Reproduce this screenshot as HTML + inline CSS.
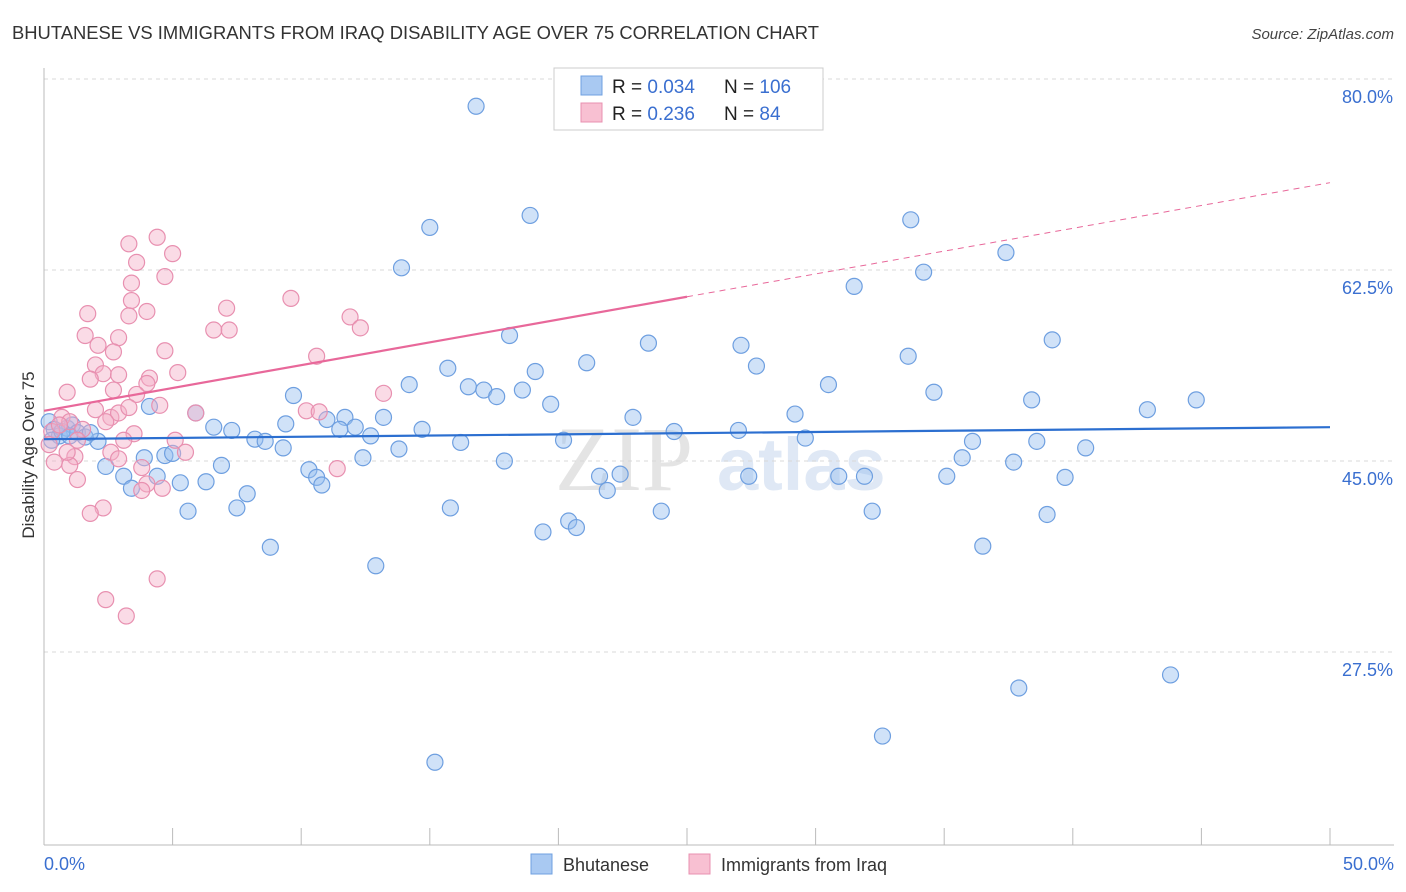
<!DOCTYPE html>
<html><head><meta charset="utf-8"><style>
body{margin:0;background:#fff;font-family:"Liberation Sans",sans-serif;}
svg{display:block}
</style></head><body>
<svg id="chart" width="1406" height="892" xmlns="http://www.w3.org/2000/svg">
<text x="12" y="39" font-size="18.4" fill="#333">BHUTANESE VS IMMIGRANTS FROM IRAQ DISABILITY AGE OVER 75 CORRELATION CHART</text>
<text x="1394" y="39" font-size="15" fill="#444" text-anchor="end" font-style="italic">Source: ZipAtlas.com</text>
<g><text x="555" y="490" font-size="92" fill="#e4e4e4" font-family="Liberation Serif, serif">ZIP</text><text x="717" y="490" font-size="74" fill="#dfe8f5" font-weight="bold">atlas</text></g>
<g id="grid"></g>
<g id="axes"></g>
<text transform="translate(34,455) rotate(-90)" font-size="17" fill="#333" text-anchor="middle">Disability Age Over 75</text>
<g id="pts"></g>
<g id="lines"></g>
<g>
<rect x="554" y="68" width="269" height="62" fill="#fff" stroke="#ccc"/>
<rect x="581" y="76" width="21" height="19" fill="#a9c9f2" stroke="#6fa0e0"/>
<rect x="581" y="103" width="21" height="19" fill="#f8c0d2" stroke="#e890b0"/>
<text x="612" y="93" font-size="19" fill="#222">R = <tspan fill="#3a6fd0">0.034</tspan></text>
<text x="724" y="93" font-size="19" fill="#222">N = <tspan fill="#3a6fd0">106</tspan></text>
<text x="612" y="120" font-size="19" fill="#222">R = <tspan fill="#3a6fd0">0.236</tspan></text>
<text x="724" y="120" font-size="19" fill="#222">N = <tspan fill="#3a6fd0"> 84</tspan></text>
</g>
<g>
<rect x="531" y="854" width="21" height="20" fill="#a9c9f2" stroke="#6fa0e0"/>
<text x="563" y="871" font-size="18" fill="#333">Bhutanese</text>
<rect x="689" y="854" width="21" height="20" fill="#f8c0d2" stroke="#e890b0"/>
<text x="721" y="871" font-size="18" fill="#333">Immigrants from Iraq</text>
</g>
</svg>
<script>
const xTicks=[0,5,10,15,20,25,30,35,40,45,50];
const yTicks=[27.5,45,62.5,80];
const yTickLabels=["27.5%","45.0%","62.5%","80.0%"];
const blueX=[16.8,18.9,15.0,33.7,37.4,13.9,34.2,31.5,18.1,23.5,27.1,39.2,33.6,21.1,27.7,15.7,19.1,14.2,16.5,17.1,18.6,30.5,34.6,9.7,17.6,19.7,42.9,44.8,38.4,4.1,5.9,29.2,13.2,11.7,11.0,9.4,22.9,6.6,7.3,12.1,11.5,14.7,12.7,27.0,24.5,8.2,8.6,20.2,29.6,36.1,38.6,16.2,2.1,9.3,13.8,40.5,3.9,4.7,5.0,12.4,17.9,35.7,37.7,6.9,2.4,10.3,10.6,10.8,3.1,4.4,5.3,6.3,21.6,22.4,27.4,30.9,31.9,35.1,39.7,3.4,7.9,21.9,5.6,7.5,15.8,24.0,32.2,39.0,20.4,20.7,19.4,8.8,36.5,12.9,37.9,43.8,32.6,15.2,0.2,0.4,0.6,0.9,1.1,1.3,1.6,1.8,0.3,0.7,1.0];
const blueY=[77.5,67.5,66.4,67.1,64.1,62.7,62.3,61.0,56.5,55.8,55.6,56.1,54.6,54.0,53.7,53.5,53.2,52.0,51.8,51.5,51.5,52.0,51.3,51.0,50.9,50.2,49.7,50.6,50.6,50.0,49.4,49.3,49.0,49.0,48.8,48.4,49.0,48.1,47.8,48.1,47.9,47.9,47.3,47.8,47.7,47.0,46.8,46.9,47.1,46.8,46.8,46.7,46.8,46.2,46.1,46.2,45.3,45.5,45.7,45.3,45.0,45.3,44.9,44.6,44.5,44.2,43.5,42.8,43.6,43.6,43.0,43.1,43.6,43.8,43.6,43.6,43.6,43.6,43.5,42.5,42.0,42.3,40.4,40.7,40.7,40.4,40.4,40.1,39.5,38.9,38.5,37.1,37.2,35.4,24.2,25.4,19.8,17.4,48.6,47.9,47.3,48.0,48.3,47.6,47.2,47.6,46.9,47.7,47.3];
const pinkX=[4.4,3.3,5.0,3.6,4.7,3.4,7.1,3.4,4.0,9.6,1.7,3.3,11.9,1.6,2.9,6.6,7.2,12.3,2.1,2.7,4.7,10.6,2.0,5.2,2.3,2.9,1.8,4.1,4.0,0.9,2.7,3.6,13.2,4.5,5.9,2.0,2.6,2.9,10.2,10.7,3.3,0.7,1.0,2.4,3.5,3.1,5.1,1.5,0.3,0.6,0.2,1.3,2.6,2.9,5.5,3.8,1.2,1.0,0.4,0.9,11.4,1.3,4.0,4.6,3.8,2.3,1.8,4.4,2.4,3.2];
const pinkY=[65.5,64.9,64.0,63.2,61.9,61.3,59.0,59.7,58.7,59.9,58.5,58.3,58.2,56.5,56.3,57.0,57.0,57.2,55.6,55.0,55.1,54.6,53.8,53.1,53.0,52.9,52.5,52.6,52.1,51.3,51.5,51.1,51.2,50.1,49.4,49.7,49.0,49.4,49.6,49.5,49.9,49.0,48.6,48.6,47.5,46.9,46.9,47.9,47.7,48.3,46.5,46.9,45.8,45.2,45.8,44.4,45.4,44.6,44.9,45.8,44.3,43.3,42.9,42.5,42.3,40.7,40.2,34.2,32.3,30.8];
const blueTrend=[47.0,48.1];
const pinkTrend=[49.6,70.5];

const NS="http://www.w3.org/2000/svg";
const X=v=>44+v/50*1286;
const Y=v=>79+(80-v)*(191/17.5);
function mk(tag,attrs,parent){const e=document.createElementNS(NS,tag);for(const k in attrs)e.setAttribute(k,attrs[k]);parent.appendChild(e);return e;}
const grid=document.getElementById('grid'),axes=document.getElementById('axes'),pts=document.getElementById('pts'),lines=document.getElementById('lines');
yTicks.forEach((t,i)=>{
 const g=mk('line',{x1:44,x2:1394,y1:Y(t),y2:Y(t),stroke:'#d8d8d8','stroke-dasharray':'4,4'},grid);
 
 
 const tx=mk('text',{x:1393,y:Y(t)+24,'font-size':18,fill:'#3a6fd0','text-anchor':'end'},axes);
 tx.textContent=yTickLabels[i];
 
 
});
const ax=mk('line',{x1:44,x2:1394,y1:845,y2:845,stroke:'#bbb'},axes);


const ay=mk('line',{x1:44,x2:44,y1:68,y2:845,stroke:'#bbb'},axes);


xTicks.forEach(t=>{
 const l=mk('line',{x1:X(t),x2:X(t),y1:828,y2:845,stroke:'#bbb'},axes);
 
 
});
const xl0=mk('text',{x:44,y:870,'font-size':18,fill:'#3a6fd0'},axes);xl0.textContent=xTicks[0].toFixed(1)+'%';


const xl1=mk('text',{x:1394,y:870,'font-size':18,fill:'#3a6fd0','text-anchor':'end'},axes);xl1.textContent=xTicks[xTicks.length-1].toFixed(1)+'%';


blueX.forEach((v,i)=>{
 const c=mk('circle',{cx:X(v),cy:Y(blueY[i]),r:8,fill:'rgba(150,190,240,0.45)',stroke:'#6e9fe0','stroke-width':1.2},pts);
 
 
});
pinkX.forEach((v,i)=>{
 const c=mk('circle',{cx:X(v),cy:Y(pinkY[i]),r:8,fill:'rgba(245,175,200,0.45)',stroke:'#e890b0','stroke-width':1.2},pts);
 
 
});
const bl=mk('line',{x1:X(0),y1:Y(blueTrend[0]),x2:X(50),y2:Y(blueTrend[1]),stroke:'#2c6fd0','stroke-width':2.2},lines);


const pm=pinkTrend[0]+(pinkTrend[1]-pinkTrend[0])*0.5;
const pl=mk('line',{x1:X(0),y1:Y(pinkTrend[0]),x2:X(25),y2:Y(pm),stroke:'#e8689a','stroke-width':2.2},lines);


const pd=mk('line',{x1:X(25),y1:Y(pm),x2:X(50),y2:Y(pinkTrend[1]),stroke:'#e8689a','stroke-width':1,'stroke-dasharray':'6,5'},lines);


</script>
</body></html>
